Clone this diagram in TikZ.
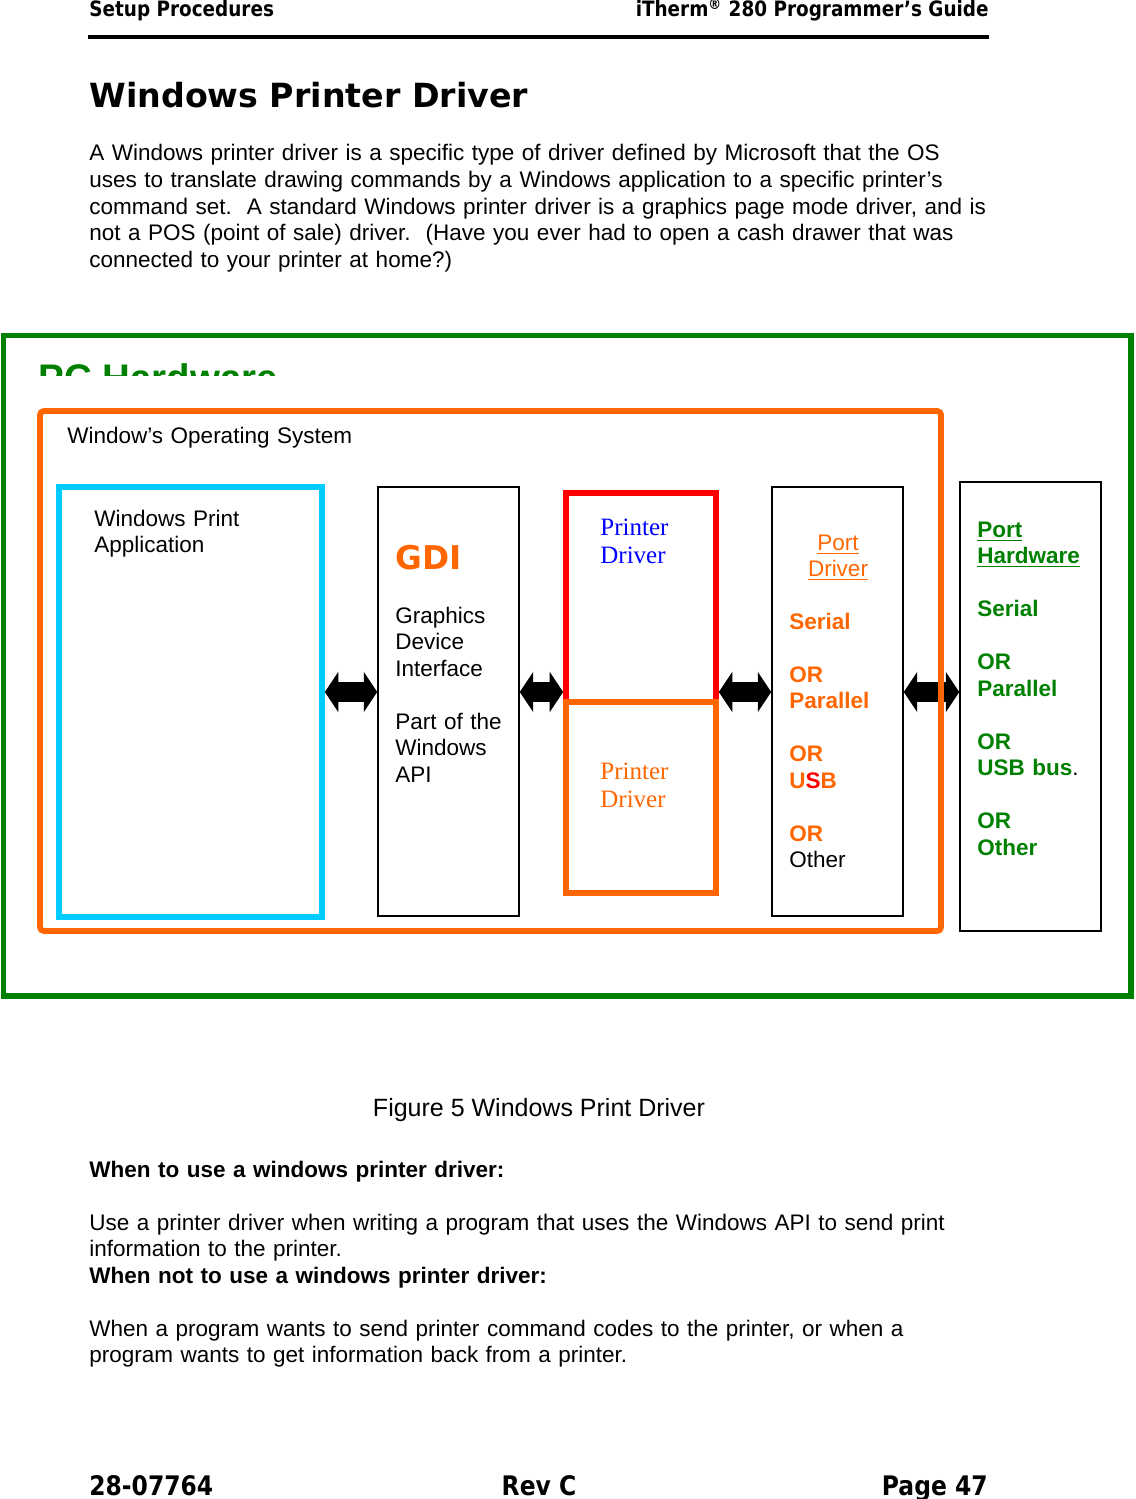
\documentclass[tikz,border=0pt]{standalone}
\usepackage{fontspec}
\setmainfont{Liberation Sans}
\newfontfamily\tmsfont{Liberation Serif}
\newfontfamily\vdfont{DejaVu Sans}
\newfontfamily\cndfont{DejaVu Sans}[FakeStretch=0.87]
\usepackage{tikz}
\usetikzlibrary{arrows.meta,fit}
\definecolor{cGreen}{HTML}{008000}
\definecolor{cOrange}{HTML}{FF6600}
\definecolor{cCyan}{HTML}{00CCFF}
\definecolor{cRed}{HTML}{FF0000}
\definecolor{cBlue}{HTML}{0000FF}
\tikzset{
  frm/.style={draw=#1,line width=3pt,inner sep=0pt},
  frm/.default=black,
  lbox/.style={draw=black,line width=0.8pt,inner sep=0pt},
  txt/.style={anchor=base west,inner sep=0pt,text width=#1,align=left,font=\fontsize{11.7}{13.8}\selectfont},
  txt/.default=200pt,
  lbl/.style={anchor=base west,inner sep=0pt},
  dblarr/.style={{Triangle[width=21pt,length=7pt,line width=0pt 0]}-{Triangle[width=21pt,length=7pt,line width=0pt 0]},line width=10pt},
}

\begin{document}
\begin{tikzpicture}[x=0.52pt,y=-0.52pt]
  \useasboundingbox (0,0) rectangle (1135,1499);
  % page header
  \node[lbl,font=\cndfont\bfseries\fontsize{11}{13}\selectfont] (hdl) at (89,17) {Setup Procedures};
  \node[lbl,anchor=base east,font=\cndfont\bfseries\fontsize{11}{13}\selectfont] (hdr) at (989,17) {iTherm\textsuperscript{\textregistered} 280 Programmer’s Guide};
  \draw[line width=2pt] (88,37) -- (989,37);
  \node[lbl,font=\vdfont\bfseries\fontsize{17.3}{20}\selectfont] (ttl) at (89,108) {Windows Printer Driver};
  \node[txt=560pt] (intro) at (89,161) {A Windows printer driver is a specific type of driver defined by Microsoft that the OS\\uses to translate drawing commands by a Windows application to a specific printer’s\\command set.\ \ A standard Windows printer driver is a graphics page mode driver, and is\\not a POS (point of sale) driver.\ \ (Have you ever had to open a cash drawer that was\\connected to your printer at home?)};
  % PC hardware frame
  \node[frm=cGreen,fit={(3.5,335.5) (1131,996)}] (pc) {};
  \begin{scope}
    \clip (20,345) rectangle (400,376);
    \node[lbl,font=\bfseries\fontsize{20}{24}\selectfont,text=cGreen] (pctl) at (38,392) {PC Hardware};
  \end{scope}
  % boxes
  \node[frm=cCyan,fit={(59,487) (322,917)}] (app) {};
  \node[lbox,fit={(378,487) (519,916)}] (gdi) {};
  \node[frm=cRed,fit={(566,493) (716,702)}] (pdu) {};
  \node[frm=cOrange,fit={(566,702) (716,893)}] (pdl) {};
  \node[lbox,fit={(772,487) (903,916)}] (port) {};
  \node[lbox,fit={(960,482) (1101,931)}] (phw) {};
  \node[txt] (apptxt) at (94,526) {Windows Print\\Application};
  \node[lbl,font=\vdfont\bfseries\fontsize{17}{20}\selectfont,text=cOrange] (gdittl) at (395,569) {GDI};
  \node[txt] (gditxt) at (395,623) {Graphics\\Device\\Interface\\[13.8pt]Part of the\\Windows\\API};
  \node[txt,font=\tmsfont\fontsize{13}{15}\selectfont,text=cBlue] (pdutxt) at (600,535) {Printer\\Driver};
  \node[txt,font=\tmsfont\fontsize{13}{15}\selectfont,text=cOrange] (pdltxt) at (600,779) {Printer\\Driver};
  \node[txt=60pt,anchor=base,align=center,text=cOrange] (portttl) at (838,550) {\underline{Port}\\\underline{Driver}};
  \node[txt,font=\bfseries\fontsize{11.7}{13.8}\selectfont,text=cOrange] (porttxt) at (789,629) {Serial\\[13.8pt]OR\\Parallel\\[13.8pt]OR\\U\textcolor{cRed}{S}B\\[13.8pt]OR\\\textcolor{black}{\mdseries Other}};
  \node[txt,font=\bfseries\fontsize{11.7}{13.8}\selectfont,text=cGreen] (phwtxt) at (977,537) {\underline{Port}\\\underline{Hardware}\\[13.8pt]Serial\\[13.8pt]OR\\Parallel\\[13.8pt]OR\\USB bus\textcolor{black}{\mdseries .}\\[13.8pt]OR\\Other};
  % links
  \coordinate (lvl) at (0,692);
  \draw[dblarr] (app.east |- lvl) -- (gdi.west |- lvl);
  \draw[dblarr] (gdi.east |- lvl) -- (pdu.west |- lvl);
  \draw[dblarr] (pdu.east |- lvl) -- (port.west |- lvl);
  \draw[dblarr] (port.east |- lvl) -- (phw.west |- lvl);
  % operating system frame (on top of the last link)
  \node[frm=cOrange,rounded corners=2pt,fit={(40,411) (941,931)}] (os) {};
  \node[txt] (ostxt) at (67,444) {Window’s Operating System};
  % caption and notes
  \node[lbl,anchor=base,font=\fontsize{13}{15}\selectfont] (cap) at (539,1116) {Figure 5 Windows Print Driver};
  \node[txt=560pt] (notes) at (89,1177) {\textbf{When to use a windows printer driver:}\\[13.8pt]Use a printer driver when writing a program that uses the Windows API to send print\\information to the printer.\\\textbf{When not to use a windows printer driver:}\\[13.8pt]When a program wants to send printer command codes to the printer, or when a\\program wants to get information back from a printer.};
  % page footer
  \node[lbl,font=\cndfont\bfseries\fontsize{14}{16}\selectfont] (ftl) at (89,1495) {28-07764};
  \node[lbl,anchor=base,font=\cndfont\bfseries\fontsize{14}{16}\selectfont] (ftc) at (539,1495) {Rev C};
  \node[lbl,anchor=base east,font=\cndfont\bfseries\fontsize{14}{16}\selectfont] (ftr) at (988,1495) {Page 47};
\end{tikzpicture}
\end{document}
